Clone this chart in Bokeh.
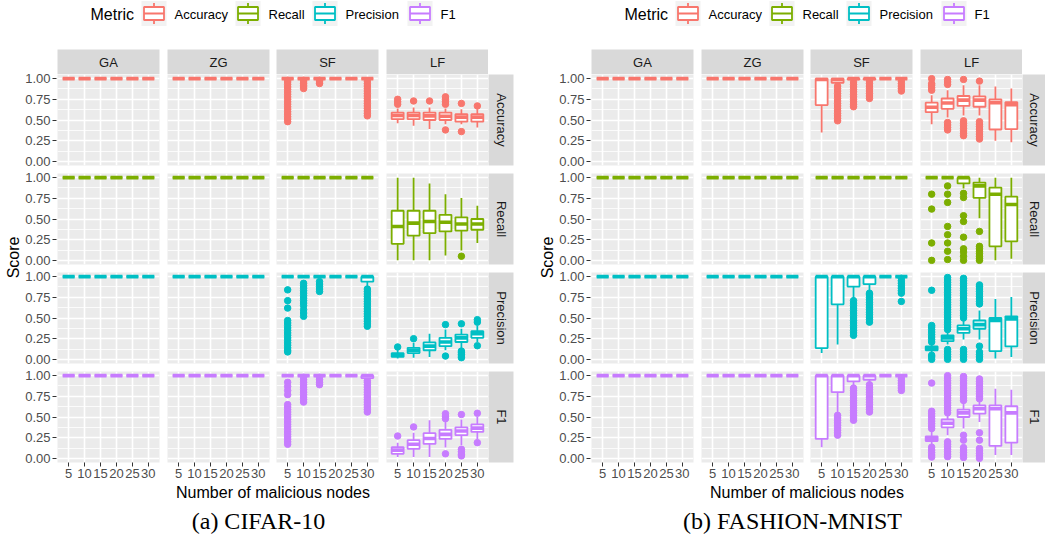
import math
from bokeh.plotting import figure
from bokeh.layouts import column
from bokeh.models import (GridBox, Range1d, FactorRange, ColumnDataSource, Grid, Spacer,
                          FixedTicker, CategoricalTicker, LinearAxis, CategoricalAxis,
                          NumeralTickFormatter)
from bokeh.transform import dodge
from bokeh.core.properties import value
from bokeh.embed import file_html
from bokeh.resources import INLINE

# ------------------------------------------------------------------ data
NODES = ["5", "10", "15", "20", "25", "30"]
METHODS = ["GA", "ZG", "SF", "LF"]
METRICS = ["Accuracy", "Recall", "Precision", "F1"]
METRIC_COLORS = ["#F8766D", "#7CAE00", "#00BFC4", "#C77CFF"]
Y_TICKS = [0.0, 0.25, 0.5, 0.75, 1.0]
Y_MINOR = [0.125, 0.375, 0.625, 0.875]
CAPTIONS = ["(a) CIFAR-10", "(b) FASHION-MNIST"]
X_TITLE = "Number of malicious nodes"
Y_TITLE = "Score"
LEGEND_TITLE = "Metric"

# every run scores 1.0 (GA, ZG and some SF panels)
PERFECT = dict(
    lo=[1.0, 1.0, 1.0, 1.0, 1.0, 1.0],
    q1=[1.0, 1.0, 1.0, 1.0, 1.0, 1.0],
    med=[1.0, 1.0, 1.0, 1.0, 1.0, 1.0],
    q3=[1.0, 1.0, 1.0, 1.0, 1.0, 1.0],
    hi=[1.0, 1.0, 1.0, 1.0, 1.0, 1.0],
    out=[[], [], [], [], [], []])

# ---------------- CIFAR-10
CIFAR_SF_ACCURACY = dict(
    lo=[1.0, 1.0, 1.0, 1.0, 1.0, 1.0],
    q1=[1.0, 1.0, 1.0, 1.0, 1.0, 1.0],
    med=[1.0, 1.0, 1.0, 1.0, 1.0, 1.0],
    q3=[1.0, 1.0, 1.0, 1.0, 1.0, 1.0],
    hi=[1.0, 1.0, 1.0, 1.0, 1.0, 1.0],
    out=[[0.48, 0.51, 0.54, 0.57, 0.60, 0.63, 0.66, 0.69, 0.72, 0.75, 0.78, 0.81, 0.84, 0.87, 0.90, 0.93, 0.96, 0.98],
         [0.88, 0.90, 0.92, 0.94, 0.96, 0.98],
         [0.94, 0.96, 0.98],
         [], [],
         [0.55, 0.58, 0.61, 0.64, 0.67, 0.70, 0.73, 0.76, 0.79, 0.82, 0.85, 0.88, 0.91, 0.94, 0.97]])
CIFAR_LF_ACCURACY = dict(
    lo=[0.46, 0.43, 0.39, 0.45, 0.45, 0.41],
    q1=[0.51, 0.51, 0.50, 0.50, 0.48, 0.48],
    med=[0.555, 0.555, 0.55, 0.545, 0.535, 0.535],
    q3=[0.59, 0.59, 0.59, 0.59, 0.57, 0.57],
    hi=[0.64, 0.65, 0.65, 0.64, 0.63, 0.63],
    out=[[0.69, 0.72, 0.75], [0.73], [0.73], [0.69, 0.72, 0.75, 0.78, 0.38], [0.70, 0.36], [0.67]])
CIFAR_LF_RECALL = dict(
    lo=[0.0, 0.0, 0.0, 0.06, 0.12, 0.21],
    q1=[0.20, 0.30, 0.33, 0.35, 0.36, 0.37],
    med=[0.41, 0.45, 0.47, 0.46, 0.44, 0.44],
    q3=[0.60, 0.60, 0.60, 0.55, 0.52, 0.50],
    hi=[1.0, 1.0, 0.93, 0.80, 0.755, 0.66],
    out=[[], [], [], [], [0.05], []])
CIFAR_SF_PRECISION = dict(
    lo=[1.0, 1.0, 1.0, 1.0, 1.0, 0.87],
    q1=[1.0, 1.0, 1.0, 1.0, 1.0, 0.94],
    med=[1.0, 1.0, 1.0, 1.0, 1.0, 1.0],
    q3=[1.0, 1.0, 1.0, 1.0, 1.0, 1.0],
    hi=[1.0, 1.0, 1.0, 1.0, 1.0, 1.0],
    out=[[0.84, 0.71, 0.62, 0.47, 0.44, 0.41, 0.38, 0.35, 0.32, 0.29, 0.26, 0.23, 0.20, 0.17, 0.14, 0.11, 0.09],
         [0.92, 0.89, 0.86, 0.83, 0.80, 0.77, 0.74, 0.71, 0.68, 0.65, 0.60, 0.56, 0.52],
         [0.82, 0.85, 0.88, 0.91, 0.94],
         [], [],
         [0.40, 0.43, 0.46, 0.49, 0.52, 0.55, 0.58, 0.61, 0.64, 0.67, 0.70, 0.73, 0.76, 0.79, 0.82, 0.85]])
CIFAR_LF_PRECISION = dict(
    lo=[0.01, 0.02, 0.03, 0.11, 0.135, 0.21],
    q1=[0.03, 0.076, 0.11, 0.16, 0.21, 0.26],
    med=[0.05, 0.11, 0.16, 0.21, 0.26, 0.31],
    q3=[0.075, 0.14, 0.205, 0.26, 0.30, 0.34],
    hi=[0.12, 0.20, 0.31, 0.36, 0.37, 0.41],
    out=[[0.15], [0.25], [], [0.42, 0.04], [0.43, 0.10, 0.08, 0.06, 0.04, 0.02], [0.45, 0.48, 0.165]])
CIFAR_SF_F1 = dict(
    lo=[1.0, 1.0, 1.0, 1.0, 1.0, 0.95],
    q1=[1.0, 1.0, 1.0, 1.0, 1.0, 0.97],
    med=[1.0, 1.0, 1.0, 1.0, 1.0, 1.0],
    q3=[1.0, 1.0, 1.0, 1.0, 1.0, 1.0],
    hi=[1.0, 1.0, 1.0, 1.0, 1.0, 1.0],
    out=[[0.92, 0.87, 0.82, 0.77, 0.65, 0.62, 0.59, 0.56, 0.53, 0.50, 0.47, 0.44, 0.41, 0.38, 0.35, 0.32, 0.29, 0.26, 0.23, 0.20, 0.17],
         [0.68, 0.71, 0.74, 0.77, 0.80, 0.83, 0.86, 0.89, 0.92, 0.95, 0.98],
         [0.89, 0.92, 0.95, 0.98],
         [], [],
         [0.56, 0.59, 0.62, 0.65, 0.68, 0.71, 0.74, 0.77, 0.80, 0.83, 0.86, 0.89, 0.92, 0.94]])
CIFAR_LF_F1 = dict(
    lo=[0.015, 0.015, 0.015, 0.13, 0.16, 0.23],
    q1=[0.055, 0.115, 0.175, 0.235, 0.28, 0.32],
    med=[0.10, 0.17, 0.24, 0.29, 0.33, 0.365],
    q3=[0.135, 0.22, 0.305, 0.345, 0.375, 0.41],
    hi=[0.19, 0.31, 0.46, 0.44, 0.47, 0.50],
    out=[[0.27], [0.38], [], [0.48, 0.51, 0.54, 0.055], [0.53, 0.11, 0.08, 0.05, 0.03], [0.545, 0.19]])

# ---------------- FASHION-MNIST
FASHION_SF_ACCURACY = dict(
    lo=[0.35, 0.93, 0.98, 0.98, 1.0, 0.99],
    q1=[0.68, 0.95, 0.99, 0.99, 1.0, 1.0],
    med=[0.99, 0.99, 1.0, 1.0, 1.0, 1.0],
    q3=[1.0, 1.0, 1.0, 1.0, 1.0, 1.0],
    hi=[1.0, 1.0, 1.0, 1.0, 1.0, 1.0],
    out=[[],
         [0.49, 0.52, 0.55, 0.58, 0.61, 0.64, 0.67, 0.70, 0.73, 0.76, 0.79, 0.82, 0.85, 0.88, 0.91],
         [0.66, 0.69, 0.72, 0.75, 0.78, 0.81, 0.84, 0.87, 0.90, 0.93, 0.96],
         [0.76, 0.79, 0.82, 0.85, 0.88, 0.91, 0.94, 0.97],
         [],
         [0.85, 0.88, 0.91, 0.94, 0.97]])
FASHION_LF_ACCURACY = dict(
    lo=[0.45, 0.53, 0.555, 0.555, 0.25, 0.23],
    q1=[0.595, 0.635, 0.67, 0.66, 0.385, 0.39],
    med=[0.655, 0.705, 0.74, 0.74, 0.71, 0.685],
    q3=[0.71, 0.76, 0.79, 0.785, 0.75, 0.716],
    hi=[0.80, 0.86, 0.92, 0.92, 0.905, 0.88],
    out=[[0.86, 0.89, 0.92, 0.94, 1.0],
         [0.93, 0.96, 0.99, 0.38, 0.41, 0.44, 0.47],
         [0.99, 0.31, 0.34, 0.37, 0.40, 0.43, 0.46, 0.49],
         [0.97, 0.27, 0.30, 0.33, 0.36, 0.39, 0.42, 0.45, 0.48],
         [], []])
FASHION_LF_RECALL = dict(
    lo=[1.0, 1.0, 0.87, 0.51, 0.0, 0.02],
    q1=[1.0, 1.0, 0.93, 0.755, 0.17, 0.23],
    med=[1.0, 1.0, 1.0, 0.90, 0.80, 0.675],
    q3=[1.0, 1.0, 1.0, 0.94, 0.88, 0.77],
    hi=[1.0, 1.0, 1.0, 1.0, 1.0, 1.0],
    out=[[0.80, 0.62, 0.21, 0.0],
         [0.90, 0.80, 0.70, 0.41, 0.31, 0.21, 0.11, 0.01],
         [0.81, 0.76, 0.54, 0.47, 0.28, 0.14, 0.10, 0.05, 0.0],
         [0.35, 0.17, 0.14, 0.11, 0.08, 0.05, 0.02, 0.0],
         [], []])
FASHION_SF_PRECISION = dict(
    lo=[0.076, 0.18, 0.73, 0.82, 1.0, 1.0],
    q1=[0.137, 0.665, 0.88, 0.91, 1.0, 1.0],
    med=[1.0, 1.0, 1.0, 1.0, 1.0, 1.0],
    q3=[1.0, 1.0, 1.0, 1.0, 1.0, 1.0],
    hi=[1.0, 1.0, 1.0, 1.0, 1.0, 1.0],
    out=[[], [],
         [0.29, 0.32, 0.35, 0.38, 0.41, 0.44, 0.47, 0.50, 0.53, 0.56, 0.59, 0.62, 0.65, 0.68, 0.71],
         [0.45, 0.48, 0.51, 0.54, 0.57, 0.60, 0.63, 0.66, 0.69, 0.72, 0.75, 0.78, 0.80],
         [],
         [0.70, 0.80, 0.83, 0.86, 0.89, 0.92, 0.95, 0.98]])
FASHION_LF_PRECISION = dict(
    lo=[0.09, 0.18, 0.24, 0.24, 0.01, 0.03],
    q1=[0.11, 0.22, 0.32, 0.37, 0.10, 0.157],
    med=[0.135, 0.26, 0.37, 0.42, 0.47, 0.49],
    q3=[0.157, 0.29, 0.41, 0.47, 0.50, 0.52],
    hi=[0.19, 0.33, 0.47, 0.59, 0.73, 0.755],
    out=[[0.835, 0.21, 0.24, 0.27, 0.30, 0.33, 0.36, 0.39, 0.41, 0.05, 0.03, 0.0],
         [0.36, 0.39, 0.42, 0.45, 0.48, 0.51, 0.54, 0.57, 0.60, 0.63, 0.66, 0.69, 0.72, 0.75, 0.78, 0.81,
          0.84, 0.87, 0.90, 0.93, 0.96, 0.99, 0.0, 0.03, 0.06, 0.09, 0.12],
         [0.50, 0.53, 0.56, 0.59, 0.62, 0.65, 0.68, 0.71, 0.74, 0.77, 0.80, 0.83, 0.86, 0.89, 0.92, 0.95,
          0.98, 0.0, 0.03, 0.06, 0.09, 0.12],
         [0.67, 0.70, 0.73, 0.76, 0.79, 0.82, 0.85, 0.88, 0.90, 0.16, 0.09, 0.06, 0.03, 0.0],
         [], []])
FASHION_SF_F1 = dict(
    lo=[0.135, 0.56, 0.88, 0.91, 1.0, 1.0],
    q1=[0.235, 0.80, 0.93, 0.95, 1.0, 1.0],
    med=[1.0, 1.0, 1.0, 1.0, 1.0, 1.0],
    q3=[1.0, 1.0, 1.0, 1.0, 1.0, 1.0],
    hi=[1.0, 1.0, 1.0, 1.0, 1.0, 1.0],
    out=[[],
         [0.28, 0.31, 0.34, 0.37, 0.40, 0.43, 0.46, 0.49, 0.52],
         [0.46, 0.49, 0.52, 0.55, 0.58, 0.61, 0.64, 0.67, 0.70, 0.73, 0.76, 0.79, 0.82, 0.85],
         [0.56, 0.59, 0.62, 0.65, 0.68, 0.71, 0.74, 0.77, 0.80, 0.83, 0.86, 0.89],
         [],
         [0.82, 0.85, 0.88, 0.91, 0.94, 0.97]])
FASHION_LF_F1 = dict(
    lo=[0.17, 0.28, 0.36, 0.44, 0.04, 0.04],
    q1=[0.21, 0.375, 0.50, 0.54, 0.15, 0.19],
    med=[0.235, 0.425, 0.55, 0.60, 0.60, 0.55],
    q3=[0.265, 0.47, 0.59, 0.64, 0.64, 0.63],
    hi=[0.33, 0.53, 0.67, 0.68, 0.84, 0.83],
    out=[[0.91, 0.36, 0.39, 0.42, 0.45, 0.48, 0.51, 0.54, 0.57, 0.135, 0.10, 0.07, 0.04, 0.015],
         [0.55, 0.58, 0.61, 0.64, 0.67, 0.70, 0.73, 0.76, 0.79, 0.82, 0.85, 0.88, 0.91, 0.94, 0.97, 1.0,
          0.20, 0.17, 0.14, 0.11, 0.08, 0.05, 0.02],
         [0.70, 0.73, 0.76, 0.79, 0.82, 0.85, 0.88, 0.91, 0.94, 0.97, 0.99,
          0.28, 0.22, 0.13, 0.10, 0.07, 0.04, 0.01],
         [0.72, 0.75, 0.78, 0.81, 0.84, 0.87, 0.90, 0.93, 0.96,
          0.31, 0.22, 0.12, 0.09, 0.06, 0.03, 0.0],
         [], []])

CIFAR = {
    ("GA", "Accuracy"): PERFECT, ("ZG", "Accuracy"): PERFECT,
    ("SF", "Accuracy"): CIFAR_SF_ACCURACY, ("LF", "Accuracy"): CIFAR_LF_ACCURACY,
    ("GA", "Recall"): PERFECT, ("ZG", "Recall"): PERFECT,
    ("SF", "Recall"): PERFECT, ("LF", "Recall"): CIFAR_LF_RECALL,
    ("GA", "Precision"): PERFECT, ("ZG", "Precision"): PERFECT,
    ("SF", "Precision"): CIFAR_SF_PRECISION, ("LF", "Precision"): CIFAR_LF_PRECISION,
    ("GA", "F1"): PERFECT, ("ZG", "F1"): PERFECT,
    ("SF", "F1"): CIFAR_SF_F1, ("LF", "F1"): CIFAR_LF_F1,
}
FASHION = {
    ("GA", "Accuracy"): PERFECT, ("ZG", "Accuracy"): PERFECT,
    ("SF", "Accuracy"): FASHION_SF_ACCURACY, ("LF", "Accuracy"): FASHION_LF_ACCURACY,
    ("GA", "Recall"): PERFECT, ("ZG", "Recall"): PERFECT,
    ("SF", "Recall"): PERFECT, ("LF", "Recall"): FASHION_LF_RECALL,
    ("GA", "Precision"): PERFECT, ("ZG", "Precision"): PERFECT,
    ("SF", "Precision"): FASHION_SF_PRECISION, ("LF", "Precision"): FASHION_LF_PRECISION,
    ("GA", "F1"): PERFECT, ("ZG", "F1"): PERFECT,
    ("SF", "F1"): FASHION_SF_F1, ("LF", "F1"): FASHION_LF_F1,
}
DATASETS = [CIFAR, FASHION]

# ------------------------------------------------------------------ layout / style
FONT = "Liberation Sans"
SERIF = "Liberation Serif"
PAGE_W = 1045
CHART_OFFSET = [0, 534]
# columns per chart: y title | y axis | GA | ZG | SF | LF | row strip
COL_W = [[22, 35, 110, 109, 110, 102, 46], [22, 35, 110, 109, 110, 102, 23]]
STRIP_RIGHT_PAD = [21, 0]
ROW_H = [49, 25, 99, 99, 99, 113, 57]
FRAME_H = 91
FRAME_W = 102
AXIS_PAD = 4
PANEL_BG = "#EBEBEB"
STRIP_BG = "#D9D9D9"
STRIP_TEXT = "#1A1A1A"
TICK_TEXT = "#4D4D4D"
TICK_LINE = "#333333"
BOX_LW = 1.8
MED_LW = 3.6
PT_SIZE = 6.5


def base_fig(width, height, **kw):
    opts = dict(width=width, height=height, toolbar_location=None, output_backend="svg",
                x_axis_type=None, y_axis_type=None, title=None,
                min_border_left=0, min_border_right=0, min_border_top=0, min_border_bottom=0,
                border_fill_color="white", outline_line_color=None)
    opts.update(kw)
    return figure(**opts)


def make_panel(stats, color, i, width, height):
    p = base_fig(width, height,
                 x_range=FactorRange(factors=NODES, range_padding=0.2, range_padding_units="absolute"),
                 y_range=Range1d(-0.05, 1.05),
                 min_border_right=width - FRAME_W, min_border_bottom=height - FRAME_H,
                 background_fill_color=PANEL_BG)
    p.add_layout(Grid(dimension=1, ticker=FixedTicker(ticks=Y_TICKS, minor_ticks=Y_MINOR),
                      grid_line_color="white", grid_line_width=1.6,
                      minor_grid_line_color="white", minor_grid_line_width=0.8))
    p.add_layout(Grid(dimension=0, ticker=CategoricalTicker(),
                      grid_line_color="white", grid_line_width=1.6))
    if i == 3:
        ax = CategoricalAxis(axis_line_color=None, major_tick_line_color=TICK_LINE, major_tick_out=4,
                             major_tick_in=0, minor_tick_line_color=None, major_label_standoff=2,
                             major_label_text_font=FONT, major_label_text_font_size="13px",
                             major_label_text_color=TICK_TEXT)
        p.add_layout(ax, "below")

    ox, oy = [], []
    for k, vals in enumerate(stats["out"]):
        for v in vals:
            ox.append(NODES[k])
            oy.append(v)
    p.scatter(x=ox, y=oy, size=PT_SIZE, fill_color=color, line_color=color)

    src = ColumnDataSource(dict(x=NODES, lo=stats["lo"], q1=stats["q1"], med=stats["med"],
                                q3=stats["q3"], hi=stats["hi"]))
    p.segment(x0="x", y0="lo", x1="x", y1="q1", source=src, line_color=color, line_width=BOX_LW)
    p.segment(x0="x", y0="q3", x1="x", y1="hi", source=src, line_color=color, line_width=BOX_LW)
    p.vbar(x="x", width=0.75, bottom="q1", top="q3", source=src, fill_color="white",
           line_color=color, line_width=BOX_LW)
    p.segment(x0=dodge("x", -0.375, range=p.x_range), y0="med",
              x1=dodge("x", 0.375, range=p.x_range), y1="med",
              source=src, line_color=color, line_width=MED_LW)
    return p


def axis_fig(width):
    # a 1px wide frame carrying the shared y axis of one facet row
    p = base_fig(width, FRAME_H + 2 * AXIS_PAD, x_range=Range1d(0, 1), y_range=Range1d(-0.05, 1.05),
                 min_border_left=width - 1, min_border_top=AXIS_PAD, min_border_bottom=AXIS_PAD,
                 background_fill_color="white")
    ax = LinearAxis(ticker=FixedTicker(ticks=Y_TICKS), formatter=NumeralTickFormatter(format="0.00"),
                    axis_line_color=None, major_tick_line_color=TICK_LINE, major_tick_out=4,
                    major_tick_in=0, minor_tick_line_color=None, major_label_standoff=2,
                    major_label_text_font=FONT, major_label_text_font_size="13px",
                    major_label_text_color=TICK_TEXT)
    p.add_layout(ax, "left")
    return p


def strip_fig(label, width, height, vertical, **kw):
    p = base_fig(width, height, x_range=Range1d(0, 1), y_range=Range1d(0, 1),
                 background_fill_color=STRIP_BG, **kw)
    p.text(x=[0.5], y=[0.5], text=[label], text_font=value(FONT), text_font_size="13px",
           text_color=STRIP_TEXT, text_align="center", text_baseline="middle",
           angle=-math.pi / 2 if vertical else 0)
    return p


children = []

# legend + bottom titles span the full width
legend = base_fig(PAGE_W, ROW_H[0], x_range=Range1d(0, PAGE_W), y_range=Range1d(ROW_H[0], 0))
bottom = base_fig(PAGE_W, ROW_H[6], x_range=Range1d(0, PAGE_W), y_range=Range1d(ROW_H[6], 0))
KEY_X = [141, 235, 312, 407]
KEY_W = 25
TITLE_X = 90
for d in range(2):
    off = CHART_OFFSET[d]
    legend.text(x=[off + TITLE_X], y=[13.5], text=[LEGEND_TITLE], text_font=value(FONT),
                text_font_size="16px", text_color="black", text_align="left", text_baseline="middle")
    for m, name in enumerate(METRICS):
        kx = off + KEY_X[m]
        c = METRIC_COLORS[m]
        legend.quad(left=[kx], right=[kx + KEY_W], top=[0.5], bottom=[25.5],
                    fill_color="#F2F2F2", line_color=None)
        legend.segment(x0=[kx + KEY_W / 2] * 2, x1=[kx + KEY_W / 2] * 2, y0=[2.5, 19.5], y1=[6.5, 23.5],
                       line_color=c, line_width=BOX_LW)
        legend.quad(left=[kx + 2.5], right=[kx + KEY_W - 2.5], top=[6.5], bottom=[19.5],
                    fill_color="white", line_color=c, line_width=BOX_LW)
        legend.segment(x0=[kx + 2.5], x1=[kx + KEY_W - 2.5], y0=[13], y1=[13], line_color=c,
                       line_width=BOX_LW)
        legend.text(x=[kx + KEY_W + 8], y=[13.5], text=[name], text_font=value(FONT),
                    text_font_size="13px", text_color="black", text_align="left", text_baseline="middle")
    panels_left = off + COL_W[d][0] + COL_W[d][1]
    panels_right = off + sum(COL_W[d][:6])
    bottom.text(x=[(panels_left + panels_right) / 2], y=[8], text=[X_TITLE], text_font=value(FONT),
                text_font_size="16px", text_color="black", text_align="center", text_baseline="middle")
    bottom.text(x=[off + 258], y=[36], text=[CAPTIONS[d]], text_font=value(SERIF),
                text_font_size="24px", text_color="black", text_align="center", text_baseline="middle")
children.append((legend, 0, 0, 1, 14))
children.append((bottom, 6, 0, 1, 14))

for d in range(2):
    c0 = 7 * d
    cw = COL_W[d]
    data = DATASETS[d]
    # y title spanning the facet rows
    score_h = sum(ROW_H[1:6])
    sp = base_fig(cw[0], score_h, x_range=Range1d(0, cw[0]), y_range=Range1d(score_h, 0))
    sp.text(x=[13], y=[ROW_H[1] + (sum(ROW_H[2:5]) + FRAME_H) / 2], text=[Y_TITLE],
            text_font=value(FONT), text_font_size="16px", text_color="black",
            text_align="center", text_baseline="middle", angle=math.pi / 2)
    children.append((sp, 1, c0, 5, 1))
    # y axes, one per facet row, stacked so that each frame lines up with its row
    axes = [Spacer(width=cw[1], height=ROW_H[1] - AXIS_PAD)] + [axis_fig(cw[1]) for _ in METRICS]
    children.append((column(*axes, spacing=0), 1, c0 + 1, 5, 1))
    # column strips
    for j, meth in enumerate(METHODS):
        s = strip_fig(meth, cw[j + 2], ROW_H[1], False, min_border_right=cw[j + 2] - FRAME_W)
        children.append((s, 1, c0 + j + 2))
    # panels and row strips
    for i, met in enumerate(METRICS):
        h = ROW_H[i + 2]
        for j, meth in enumerate(METHODS):
            p = make_panel(data[(meth, met)], METRIC_COLORS[i], i, cw[j + 2], h)
            children.append((p, i + 2, c0 + j + 2))
        s = strip_fig(met, cw[6], h, True, min_border_right=STRIP_RIGHT_PAD[d],
                      min_border_bottom=h - FRAME_H)
        children.append((s, i + 2, c0 + 6))

layout = GridBox(children=children, spacing=0)
open("out.html", "w").write(file_html(layout, INLINE))
